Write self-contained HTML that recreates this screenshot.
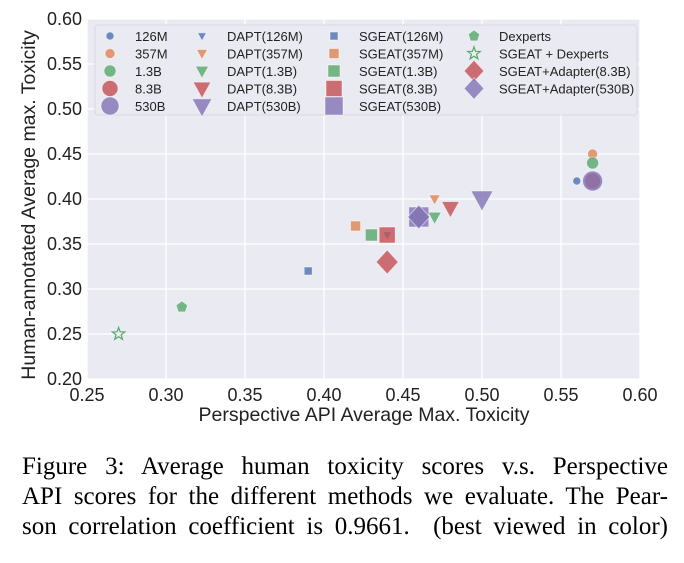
<!DOCTYPE html>
<html><head><meta charset="utf-8"><style>
body{margin:0;background:#fff;width:684px;height:563px;overflow:hidden}
.cap{position:absolute;left:22px;top:452px;width:646px;font-family:"Liberation Serif",serif;font-size:25px;line-height:30px;color:#000}
.cap div{text-align:justify;text-align-last:justify;white-space:nowrap}
</style></head><body>
<svg id="chart" width="684" height="440" style="position:absolute;left:0;top:0" font-family="Liberation Sans, sans-serif"></svg>
<div class="cap">
<div>Figure 3: Average human toxicity scores v.s. Perspective</div>
<div>API scores for the different methods we evaluate. The Pear-</div>
<div>son correlation coefficient is 0.9661. &nbsp;(best viewed in color)</div>
</div>
<script>
const labels=["126M","357M","1.3B","8.3B","530B","DAPT(126M)","DAPT(357M)","DAPT(1.3B)","DAPT(8.3B)","DAPT(530B)","SGEAT(126M)","SGEAT(357M)","SGEAT(1.3B)","SGEAT(8.3B)","SGEAT(530B)","Dexperts","SGEAT + Dexperts","SGEAT+Adapter(8.3B)","SGEAT+Adapter(530B)"];
const xVals=[0.56,0.57,0.57,0.57,0.57,0.44,0.47,0.47,0.48,0.50,0.39,0.42,0.43,0.44,0.46,0.31,0.27,0.44,0.46];
const yVals=[0.42,0.45,0.44,0.42,0.42,0.36,0.40,0.38,0.39,0.40,0.32,0.37,0.36,0.36,0.38,0.28,0.25,0.33,0.38];
const xTicks=[0.25,0.30,0.35,0.40,0.45,0.50,0.55,0.60];
const yTicks=[0.20,0.25,0.30,0.35,0.40,0.45,0.50,0.55,0.60];
const C=["#4C72B0","#DD8452","#55A868","#C44E52","#8172B3"];
const shapes=["c","c","c","c","c","t","t","t","t","t","s","s","s","s","s","p","st","d","d"];
const cols=[0,1,2,3,4,0,1,2,3,4,0,1,2,3,4,2,2,3,4].map(i=>C[i]);
const sizes=[4,5,6,8,10,4,5,6,8,10,4,5,6,8,10,6,6,10,10];
const L=87,R=640,T=19,B=379;
const sx=v=>L+(v-0.25)/0.35*(R-L), sy=v=>B-(v-0.2)/0.4*(B-T);
const svg=document.getElementById('chart');const NS="http://www.w3.org/2000/svg";
function mk(t,a,p){const e=document.createElementNS(NS,t);for(const k in a)e.setAttribute(k,a[k]);(p||svg).appendChild(e);return e;}
let bg=mk('rect',{x:L,y:T,width:R-L,height:B-T,fill:'#eaeaf2'});


xTicks.forEach(v=>{const g=mk('line',{x1:sx(v),x2:sx(v),y1:T,y2:B,stroke:'#fff','stroke-width':1.3});


const t=mk('text',{x:sx(v),y:B+22,'text-anchor':'middle','font-size':18,fill:'#222'});t.textContent=v.toFixed(2);

});
yTicks.forEach(v=>{const g=mk('line',{x1:L,x2:R,y1:sy(v),y2:sy(v),stroke:'#fff','stroke-width':1.3});


const t=mk('text',{x:L-5,y:sy(v)+6,'text-anchor':'end','font-size':18,fill:'#222'});t.textContent=v.toFixed(2);

});
function marker(sh,x,y,r,c,parent){let e;
if(sh=='c')e=mk('circle',{cx:x,cy:y,r:r},parent);
else if(sh=='s')e=mk('rect',{x:x-r,y:y-r,width:2*r,height:2*r},parent);
else if(sh=='t')e=mk('polygon',{points:`${x-r*1.1},${y-r*0.8} ${x+r*1.1},${y-r*0.8} ${x},${y+r*1.2}`},parent);
else if(sh=='d')e=mk('polygon',{points:`${x},${y-r*1.2} ${x+r*1.1},${y} ${x},${y+r*1.2} ${x-r*1.1},${y}`},parent);
else if(sh=='p'){let p=[];for(let i=0;i<5;i++){const a=-Math.PI/2+i*2*Math.PI/5;p.push((x+r*Math.cos(a))+','+(y+r*Math.sin(a)));}e=mk('polygon',{points:p.join(' ')},parent);}
else {let p=[];for(let i=0;i<10;i++){const a=-Math.PI/2+i*Math.PI/5,rr=i%2?r*0.45:r*1.1;p.push((x+rr*Math.cos(a))+','+(y+rr*Math.sin(a)));}e=mk('polygon',{points:p.join(' ')},parent);}
if(sh=='st'){e.setAttribute('fill','none');e.setAttribute('stroke',c);e.setAttribute('stroke-width',1.2);}
else{e.setAttribute('fill',c);e.setAttribute('fill-opacity',0.8);e.setAttribute('stroke','#fff');e.setAttribute('stroke-opacity',0.6);e.setAttribute('stroke-width',0.8);}
return e;}
xVals.forEach((v,i)=>{const m=marker(shapes[i],sx(v),sy(yVals[i]),sizes[i],cols[i]);

});
const lg=mk('g',{});


mk('rect',{x:95,y:25,width:542,height:90,fill:'#eaeaf2',stroke:'#d8d8e0',rx:3},lg);
const colX=[110,202,334,474];
labels.forEach((lab,i)=>{const c=Math.floor(i/5)<3?Math.floor(i/5):3;const row=i<15?i%5:i-15;
const x=colX[c],y=36+row*17.5;
marker(shapes[i],x,y,Math.min(sizes[i],9),cols[i],lg);
const t=mk('text',{x:x+25,y:y+5,'font-size':13,fill:'#222'},lg);t.textContent=lab;

});
const xt=mk('text',{x:364,y:421,'text-anchor':'middle','font-size':19.5,fill:'#222'});xt.textContent='Perspective API Average Max. Toxicity';


const yt=mk('text',{x:0,y:0,'text-anchor':'middle','font-size':19.5,fill:'#222',transform:`translate(35,${(T+B)/2+6}) rotate(-90)`});yt.textContent='Human-annotated  Average max. Toxicity';


</script>
</body></html>
